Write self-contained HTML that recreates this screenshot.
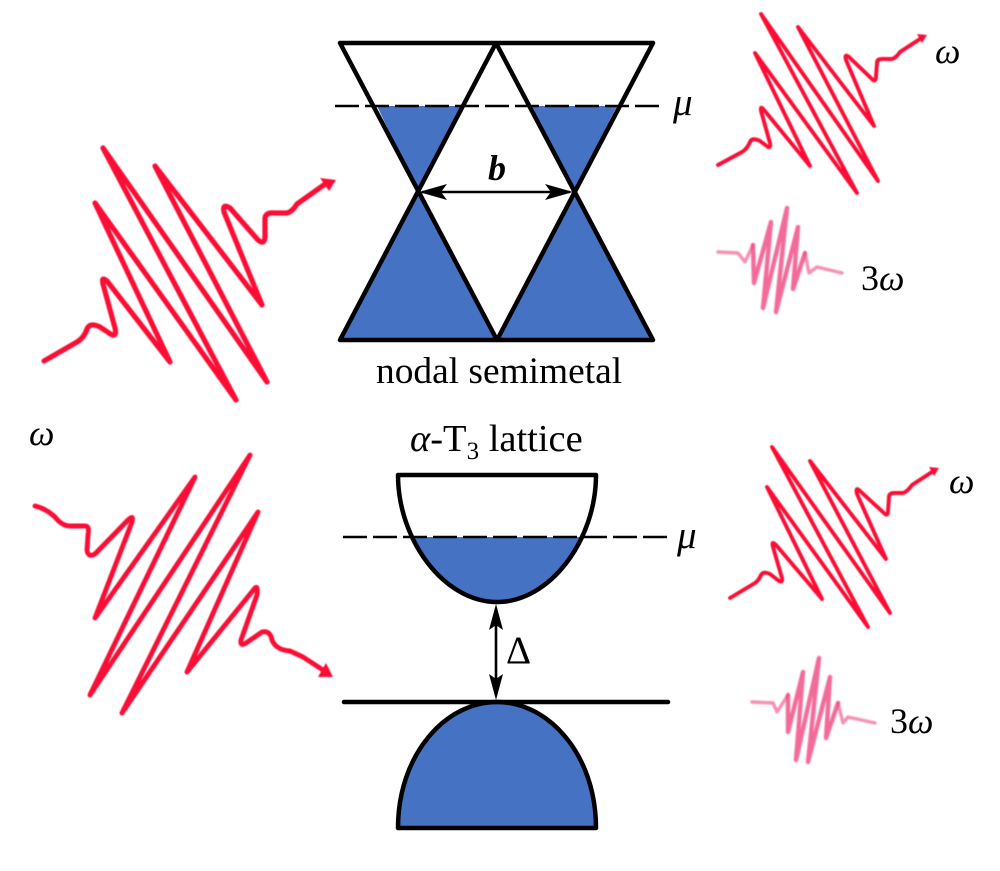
<!DOCTYPE html>
<html>
<head>
<meta charset="utf-8">
<style>
html,body{margin:0;padding:0;background:#fff}
svg{display:block}
text{font-family:"Liberation Serif",serif;fill:#000}
.i{font-style:italic}
.bk{fill:none;stroke:#000;stroke-width:4.5;stroke-linejoin:round;stroke-linecap:round}
.bl{fill:#4672c4;stroke:none}
.wave{fill:none;stroke:#fb0f36;stroke-linejoin:round;stroke-linecap:round}
.pink{fill:none;stroke:#f0457f;stroke-linejoin:round;stroke-linecap:round}
.tail{fill:none;stroke:#f58fb0;stroke-linejoin:round;stroke-linecap:round}
</style>
</head>
<body>
<svg width="1000" height="871" viewBox="0 0 1000 871" xmlns="http://www.w3.org/2000/svg">
<defs>
<filter id="s" x="-5%" y="-5%" width="110%" height="110%"><feGaussianBlur stdDeviation="0.6"/></filter>
<filter id="p" x="-5%" y="-5%" width="110%" height="110%"><feGaussianBlur stdDeviation="0.8"/></filter>
</defs>
<rect width="1000" height="871" fill="#fff"/>

<g filter="url(#s)">
<path class="wave" stroke-width="5.2" d="M44,361 L77,342 Q84,338 87,329 Q90,322 100,327 L112,335 Q117,336 115,328 L103,284 Q101,276 107,281 L170,362 L95,203 L236,400 L103,148 L267,382 L155,166 L262,305 L224,212 Q222,203 230,208 L258,240 Q264,245 265,238 L265,218 Q266,212 275,213 L287,213 Q292,212 297,204 L328,182"/>
<polygon points="320,178 336,180 329,191" fill="#fb0f36"/>

<path class="wave" stroke-width="3.9" d="M718,165 L742,152 Q747,149 750,142 Q752,137 760,141 L768,147 Q771,148 770,143 L761,111 Q760,105 764,110 L810,166 L755,53 L857,193 L761,14 L878,181 L798,27 L874,126 L846,60 Q844,53 849,57 L873,80 Q876,82 876,76 L877,63 Q877,59 882,59 L892,59 Q896,58 900,52 L923,37"/>
<polygon points="917,34 927,35 922,43" fill="#fb0f36"/>

<path class="wave" stroke-width="4.9" d="M35,506 Q45,508 55,517 Q62,526 70,526 L84,526 Q90,525 88,535 L87,550 Q88,558 95,554 L128,520 Q134,514 132,522 L95,618 L195,477 L90,695 L250,455 L122,713 L258,512 L187,672 L255,588 Q258,585 257,595 L241,640 Q240,647 246,643 L262,632 Q270,630 272,640 Q276,650 290,651 L303,657 L326,672"/>
<polygon points="326,663 333,677 318,677" fill="#fb0f36"/>

<path class="wave" stroke-width="3.9" d="M730,598 L755,583 Q759,580 761,575 Q763,571 770,574 L779,581 Q783,583 782,578 L773,547 Q771,540 776,545 L822,599 L767,487 L868,627 L772,447 L890,613 L810,461 L886,559 L857,494 Q855,486 860,491 L885,514 Q888,516 888,511 L889,497 Q889,493 894,493 L903,493 Q907,492 912,485 L935,470"/>
<polygon points="929,467 939,468 934,476" fill="#fb0f36"/>
</g>

<g filter="url(#p)">
<path class="tail" stroke-width="3.4" d="M718,252 L738,253 L745,262 L753,245 M805,253 L809,273 L817,267 L842,273"/>
<path class="pink" stroke-width="4.4" opacity="0.8" d="M753,245 L754,283 L771,222 L763,308 L787,208 L776,312 L798,227 L793,289 L805,253"/>
<path class="tail" stroke-width="3.4" d="M752,702 L773,703 L777,712 L788,695 M838,703 L843,723 L848,717 L875,723"/>
<path class="pink" stroke-width="4.4" opacity="0.8" d="M788,695 L788,732 L803,672 L796,760 L819,658 L808,762 L830,677 L826,738 L838,703"/>
</g>

<!-- nodal semimetal -->
<polygon class="bl" points="377,106 461,106 418,192"/>
<polygon class="bl" points="532,106 617,106 574,192"/>
<polygon class="bl" points="418,192 497,340 340,340"/>
<polygon class="bl" points="574,192 653,340 497,340"/>
<path class="bk" d="M340,43 H653 M340,340 H653 M340,43 L497,340 M653,43 L497,340 M496,43 L340,340 M496,43 L653,340"/>
<path d="M335,106 H662" stroke="#000" stroke-width="2.6" fill="none" stroke-dasharray="24,6"/>
<path d="M422,192 H570" stroke="#000" stroke-width="2.6"/>
<polygon points="419,192 447,184 441,192 447,200" fill="#000"/>
<polygon points="573,192 545,184 551,192 545,200" fill="#000"/>
<text x="488" y="180" font-size="36" font-weight="bold" class="i">b</text>
<text x="376" y="383" font-size="37.4">nodal semimetal</text>
<text x="673" y="115" font-size="39" class="i">μ</text>

<!-- alpha-T3 -->
<text x="410" y="451" font-size="38.5"><tspan class="i">α</tspan>-T<tspan font-size="25" dy="8">3</tspan><tspan dy="-8"> lattice</tspan></text>
<path class="bl" d="M412,537 H581 C562,578 530,602 497,602 C463,602 431,578 412,537 Z"/>
<path class="bk" d="M398,475 H596 C596,540 550,602 497,602 C444,602 398,540 398,475 Z"/>
<path d="M343,537 H668" stroke="#000" stroke-width="2.6" fill="none" stroke-dasharray="24,6"/>
<text x="677" y="548" font-size="39" class="i">μ</text>

<path d="M496,610 V695" stroke="#000" stroke-width="2.6"/>
<polygon points="496,604 503,630 496,625 489,630" fill="#000"/>
<polygon points="496,700 503,674 496,679 489,674" fill="#000"/>
<text x="506" y="663" font-size="39">Δ</text>

<path class="bl" d="M398,828 C398,755 445,702 497,702 C549,702 596,755 596,828 Z"/>
<path class="bk" d="M398,828 C398,755 445,702 497,702 C549,702 596,755 596,828 Z"/>
<path class="bk" d="M344,702 H668"/>

<text x="935" y="63" font-size="36" class="i">ω</text>
<text x="861" y="290" font-size="36">3<tspan class="i">ω</tspan></text>
<text x="29" y="445" font-size="36" class="i">ω</text>
<text x="949" y="493" font-size="36" class="i">ω</text>
<text x="890" y="733" font-size="36">3<tspan class="i">ω</tspan></text>
</svg>
</body>
</html>
